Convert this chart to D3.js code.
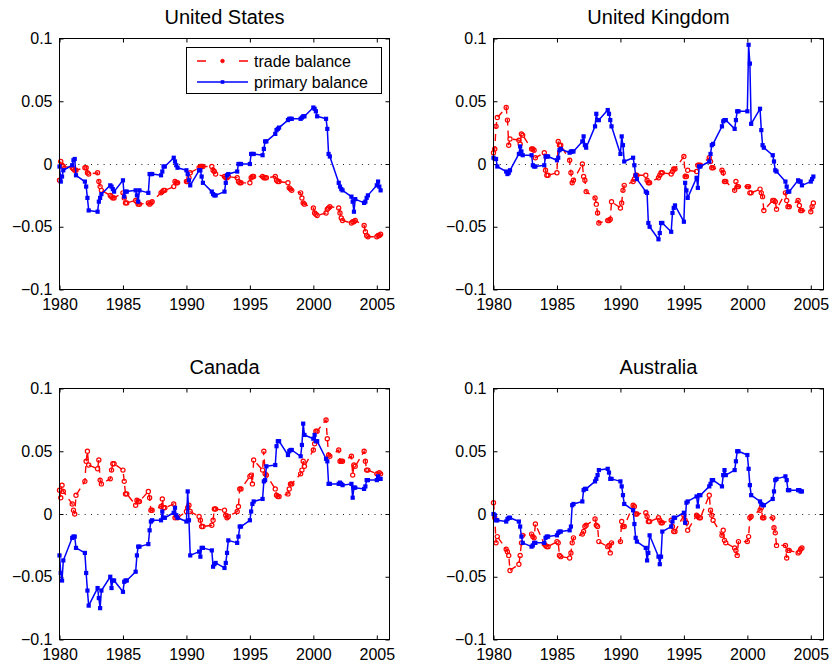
<!DOCTYPE html>
<html>
<head>
<meta charset="utf-8">
<script src="https://cdn.jsdelivr.net/npm/d3@7"></script>
<style>
  html, body { margin: 0; padding: 0; background: #fff; }
  svg { display: block; font-family: "Liberation Sans", Arial, Helvetica, sans-serif; }
</style>
</head>
<body>
<svg id="chart" width="832" height="668"></svg>
<script>
// Quarterly observations (share of GDP), one row per year starting in 1980.
// Dates are coded as year + 0.0 / 0.1 / 0.2 / 0.3 for Q1..Q4.
const startYear = 1980;
const quarterCode = [0, 0.1, 0.2, 0.3];

const usTrade = [
  -0.013, 0.002, -0.001, -0.002,
  -0.003, -0.004, -0.005, -0.005,
  -0.003, -0.003, -0.007, -0.008,
  -0.007, -0.014, -0.018, -0.021,
  -0.025, -0.026, -0.027, -0.027,
  -0.023, -0.027, -0.031, -0.031,
  -0.029, -0.030, -0.032, -0.032,
  -0.031, -0.032, -0.031, -0.030,
  -0.023, -0.022, -0.021, -0.021,
  -0.018, -0.014, -0.015, -0.015,
  -0.014, -0.014, -0.011, -0.007,
  -0.003, -0.002, -0.002, -0.002,
  -0.002, -0.005, -0.006, -0.008,
  -0.010, -0.011, -0.011, -0.010,
  -0.011, -0.014, -0.015, -0.015,
  -0.015, -0.011, -0.010, -0.010,
  -0.010, -0.011, -0.011, -0.011,
  -0.010, -0.013, -0.014, -0.014,
  -0.015, -0.019, -0.020, -0.021,
  -0.023, -0.027, -0.031, -0.032,
  -0.035, -0.039, -0.040, -0.041,
  -0.039, -0.036, -0.035, -0.034,
  -0.035, -0.039, -0.043, -0.045,
  -0.047, -0.046, -0.046, -0.045,
  -0.049, -0.054, -0.057, -0.058,
  -0.058, -0.057, -0.057, -0.056
];
const usPrimary = [
  -0.002, -0.014, -0.010, -0.005,
  -0.001, 0.003, 0.004, -0.009,
  -0.014, -0.018, -0.027, -0.037,
  -0.038, -0.030, -0.027, -0.024,
  -0.017, -0.018, -0.020, -0.022,
  -0.013, -0.026, -0.022, -0.022,
  -0.021, -0.025, -0.030, -0.021,
  -0.023, -0.008, -0.008, -0.008,
  -0.009, -0.006, -0.002, -0.002,
  0.005, 0.002, -0.001, -0.003,
  -0.005, -0.008, -0.013, -0.017,
  -0.005, -0.005, -0.010, -0.015,
  -0.022, -0.024, -0.025, -0.025,
  -0.022, -0.015, -0.009, -0.008,
  -0.006, 0.000, 0.000, 0.000,
  0.000, 0.008, 0.008, 0.008,
  0.007, 0.012, 0.018, 0.018,
  0.024, 0.027, 0.028, 0.029,
  0.035, 0.036, 0.036, 0.036,
  0.036, 0.037, 0.038, 0.038,
  0.045, 0.044, 0.042, 0.038,
  0.036, 0.028, 0.008, 0.006,
  -0.015, -0.018, -0.020, -0.021,
  -0.026, -0.030, -0.038, -0.028,
  -0.031, -0.030, -0.027, -0.025,
  -0.017, -0.014, -0.018, -0.021
];

const ukTrade = [
  0.009, 0.012, 0.030, 0.037,
  0.045, 0.035, 0.015, 0.020,
  0.019, 0.016, 0.024, 0.023,
  0.012, 0.012, 0.011, 0.005,
  0.009, -0.005, -0.009, -0.009,
  -0.007, 0.018, 0.015, 0.015,
  0.003, -0.007, -0.015, -0.013,
  0.000, -0.010, -0.013, -0.022,
  -0.027, -0.032, -0.039, -0.047,
  -0.045, -0.045, -0.044, -0.030,
  -0.035, -0.031, -0.021, -0.017,
  -0.014, -0.012, -0.009, -0.009,
  -0.009, -0.013, -0.015, -0.015,
  -0.011, -0.009, -0.007, -0.007,
  -0.008, -0.006, -0.004, -0.004,
  0.006, -0.010, -0.010, -0.005,
  -0.006, -0.001, -0.001, -0.001,
  0.005, 0.002, -0.003, -0.003,
  -0.005, -0.007, -0.014, -0.014,
  -0.021, -0.014, -0.018, -0.018,
  -0.018, -0.018, -0.023, -0.023,
  -0.020, -0.023, -0.026, -0.037,
  -0.029, -0.029, -0.030, -0.036,
  -0.023, -0.029, -0.034, -0.034,
  -0.029, -0.033, -0.037, -0.037,
  -0.038, -0.034, -0.031
];
const ukPrimary = [
  0.005, 0.004, 0.004, -0.002,
  -0.006, -0.008, -0.007, -0.005,
  0.008, 0.014, 0.010, 0.007,
  0.007, -0.001, -0.002, -0.002,
  -0.001, 0.006, 0.006, 0.006,
  0.003, 0.005, 0.011, 0.012,
  0.009, 0.010, 0.010, 0.010,
  0.018, 0.022, 0.015, 0.013,
  0.030, 0.040, 0.035, 0.035,
  0.043, 0.040, 0.035, 0.030,
  0.008, 0.022, 0.015, 0.002,
  0.005, -0.001, -0.009, -0.012,
  -0.022, -0.023, -0.047, -0.050,
  -0.060, -0.055, -0.047, -0.047,
  -0.054, -0.039, -0.035, -0.033,
  -0.046, -0.015, -0.021, -0.027,
  -0.011, -0.019, -0.002, -0.002,
  0.002, 0.008, 0.015, 0.016,
  0.030, 0.034, 0.035, 0.035,
  0.028, 0.035, 0.042, 0.042,
  0.042, 0.095, 0.080, 0.032,
  0.044, 0.027, 0.015, 0.013,
  0.007, 0.002, -0.005, -0.006,
  -0.014, -0.018, -0.022, -0.022,
  -0.013, -0.014, -0.014, -0.017,
  -0.014, -0.012, -0.010
];

const caTrade = [
  0.019, 0.013, 0.023, 0.018,
  0.008, 0.003, 0.000, 0.015,
  0.026, 0.042, 0.050, 0.039,
  0.036, 0.043, 0.027, 0.024,
  0.028, 0.035, 0.040, 0.040,
  0.035, 0.026, 0.016, 0.016,
  0.007, 0.011, 0.010, 0.010,
  0.018, 0.013, 0.003, 0.003,
  0.006, 0.012, 0.005, 0.005,
  0.008, -0.003, -0.002, -0.003,
  0.002, 0.005, 0.007, 0.002,
  -0.002, -0.005, -0.010, -0.010,
  -0.009, -0.005, 0.004, 0.004,
  0.003, -0.001, -0.003, -0.002,
  0.002, 0.006, 0.020, 0.020,
  0.030, 0.031, 0.024, 0.043,
  0.035, 0.050, 0.032, 0.031,
  0.020, 0.015, 0.014, 0.014,
  0.016, 0.020, 0.024, 0.024,
  0.032, 0.035, 0.042, 0.038,
  0.051, 0.056, 0.066, 0.066,
  0.075, 0.060, 0.047, 0.046,
  0.051, 0.042, 0.042, 0.042,
  0.046, 0.031, 0.039, 0.038,
  0.050, 0.042, 0.035, 0.035,
  0.032, 0.032, 0.033, 0.032
];
const caPrimary = [
  -0.033, -0.047, -0.053, -0.037,
  -0.019, -0.018, -0.018, -0.027,
  -0.031, -0.047, -0.061, -0.073,
  -0.059, -0.067, -0.075, -0.061,
  -0.050, -0.059, -0.053, -0.053,
  -0.062, -0.054, -0.053, -0.053,
  -0.046, -0.033, -0.026, -0.026,
  -0.024, -0.013, -0.006, -0.005,
  -0.005, 0.002, -0.003, -0.003,
  0.001, 0.005, -0.001, -0.003,
  -0.006, 0.018, -0.005, -0.033,
  -0.030, -0.034, -0.027, -0.027,
  -0.029, -0.042, -0.040, -0.039,
  -0.043, -0.039, -0.031, -0.021,
  -0.023, -0.018, -0.010, -0.010,
  -0.005, 0.002, 0.008, 0.010,
  0.012, 0.026, 0.027, 0.038,
  0.039, 0.054, 0.058, 0.058,
  0.047, 0.050, 0.051, 0.051,
  0.046, 0.055, 0.072, 0.063,
  0.060, 0.063, 0.058, 0.058,
  0.044, 0.042, 0.024, 0.024,
  0.024, 0.025, 0.024, 0.023,
  0.024, 0.013, 0.021, 0.021,
  0.020, 0.022, 0.027, 0.027,
  0.027, 0.030, 0.028, 0.028
];

const auTrade = [
  0.009, -0.003, -0.023, -0.018,
  -0.028, -0.030, -0.033, -0.045,
  -0.040, -0.033, -0.023, -0.017,
  -0.016, -0.018, -0.019, -0.008,
  -0.024, -0.025, -0.026, -0.026,
  -0.022, -0.023, -0.033, -0.034,
  -0.035, -0.031, -0.023, -0.019,
  -0.016, -0.014, -0.010, -0.009,
  -0.004, -0.009, -0.010, -0.022,
  -0.026, -0.025, -0.031, -0.023,
  -0.022, -0.006, -0.010, -0.010,
  0.007, 0.006, 0.000, 0.000,
  0.001, -0.002, -0.006, -0.006,
  -0.003, -0.005, -0.007, -0.007,
  -0.005, -0.010, -0.014, -0.014,
  -0.001, -0.005, -0.007, -0.013,
  -0.001, -0.002, -0.003, -0.003,
  0.015, 0.003, -0.001, -0.005,
  -0.017, -0.013, -0.021, -0.023,
  -0.027, -0.029, -0.033, -0.022,
  -0.022, -0.018, -0.003, -0.002,
  0.003, 0.005, -0.003, -0.003,
  -0.003, -0.011, -0.015, -0.025,
  -0.025, -0.035, -0.029, -0.029,
  -0.031, -0.030, -0.028, -0.027
];
const auPrimary = [
  0.000, -0.001, -0.005, -0.005,
  -0.006, -0.004, -0.003, -0.003,
  -0.006, -0.010, -0.018, -0.023,
  -0.026, -0.025, -0.023, -0.023,
  -0.023, -0.019, -0.018, -0.018,
  -0.017, -0.015, -0.014, -0.014,
  -0.013, -0.010, 0.007, 0.008,
  0.010, 0.019, 0.020, 0.020,
  0.026, 0.028, 0.031, 0.035,
  0.036, 0.033, 0.028, 0.028,
  0.026, 0.022, 0.015, 0.008,
  0.003, -0.008, -0.019, -0.022,
  -0.027, -0.037, -0.031, -0.017,
  -0.034, -0.040, -0.034, -0.014,
  -0.010, -0.006, -0.003, -0.003,
  0.001, -0.007, 0.009, 0.010,
  0.014, 0.006, 0.015, 0.015,
  0.022, 0.024, 0.027, 0.027,
  0.022, 0.031, 0.035, 0.031,
  0.035, 0.042, 0.050, 0.050,
  0.047, 0.036, 0.023, 0.015,
  0.010, 0.008, 0.007, 0.007,
  0.012, 0.018, 0.027, 0.028,
  0.030, 0.027, 0.019, 0.019,
  0.019, 0.019, 0.018, 0.018
];

const countries = ["United States", "United Kingdom", "Canada", "Australia"];
const tradeSeries = [usTrade, ukTrade, caTrade, auTrade];
const primarySeries = [usPrimary, ukPrimary, caPrimary, auPrimary];
const seriesNames = ["trade balance", "primary balance"];

const xDomain = [1980, 2006];
const xTicks = [1980, 1985, 1990, 1995, 2000, 2005];
const yDomain = [-0.1, 0.1];
const yTicks = [-0.1, -0.05, 0, 0.05, 0.1];
const yTickLabels = ["\u22120.1", "\u22120.05", "0", "0.05", "0.1"];

// ---- layout ----
const colX = [59.5, 493.5];
const rowY = [38.5, 388.5];
const panelW = 330, panelH = 251;
const tradeColor = "#ff0000", primaryColor = "#0000ff";

const dateOf = i => startYear + Math.floor(i / 4) + quarterCode[i % 4];

const svg = d3.select("#chart");

countries.forEach((name, k) => {
  const x0 = colX[k % 2], y0 = rowY[Math.floor(k / 2)];
  const x = d3.scaleLinear().domain(xDomain).range([x0, x0 + panelW]);
  const y = d3.scaleLinear().domain(yDomain).range([y0 + panelH, y0]);

  const g = svg.append("g").attr("class", "panel");

  // title
  g.append("text")
    .attr("x", x0 + panelW / 2).attr("y", y0 - 15)
    .attr("text-anchor", "middle")
    .attr("font-size", 20).attr("fill", "#000")
    .text(name);

  // axes with inward ticks on all four sides
  const styleAxis = sel => {
    sel.attr("font-size", 16).attr("font-family", null).attr("color", "#000");
    sel.select(".domain").remove();
  };
  g.append("g").attr("transform", `translate(0,${y0 + panelH})`)
    .call(d3.axisBottom(x).tickValues(xTicks).tickFormat(d => String(d))
      .tickSize(-4).tickSizeOuter(0).tickPadding(9))
    .call(styleAxis);
  g.append("g").attr("transform", `translate(0,${y0})`)
    .call(d3.axisTop(x).tickValues(xTicks).tickFormat("")
      .tickSize(-4).tickSizeOuter(0))
    .call(styleAxis);
  g.append("g").attr("transform", `translate(${x0},0)`)
    .call(d3.axisLeft(y).tickValues(yTicks).tickFormat((d, i) => yTickLabels[i])
      .tickSize(-4).tickSizeOuter(0).tickPadding(7))
    .call(styleAxis);
  g.append("g").attr("transform", `translate(${x0 + panelW},0)`)
    .call(d3.axisRight(y).tickValues(yTicks).tickFormat("")
      .tickSize(-4).tickSizeOuter(0))
    .call(styleAxis);

  // dotted zero line
  const yz = Math.round(y(0)) + 0.5;
  g.append("line")
    .attr("x1", x0).attr("x2", x0 + panelW)
    .attr("y1", yz).attr("y2", yz)
    .attr("stroke", "#222").attr("stroke-width", 1)
    .attr("stroke-dasharray", "1,5.3");

  const line = d3.line().x((d, i) => x(dateOf(i))).y(d => y(d));

  // trade balance: dashed red with open circles
  const trade = tradeSeries[k];
  g.append("path").datum(trade)
    .attr("d", line).attr("fill", "none")
    .attr("stroke", tradeColor).attr("stroke-width", 1.4)
    .attr("stroke-dasharray", "7,5");
  g.append("g").selectAll("circle").data(trade).join("circle")
    .attr("cx", (d, i) => x(dateOf(i))).attr("cy", d => y(d))
    .attr("r", 2.1).attr("fill", "none")
    .attr("stroke", tradeColor).attr("stroke-width", 1.2);

  // primary balance: solid blue with filled squares
  const primary = primarySeries[k];
  g.append("path").datum(primary)
    .attr("d", line).attr("fill", "none")
    .attr("stroke", primaryColor).attr("stroke-width", 1.5)
    .attr("stroke-linejoin", "round");
  const sq = 4.2;
  g.append("g").selectAll("rect").data(primary).join("rect")
    .attr("x", (d, i) => x(dateOf(i)) - sq / 2).attr("y", d => y(d) - sq / 2)
    .attr("width", sq).attr("height", sq)
    .attr("fill", primaryColor);

  // frame
  g.append("rect")
    .attr("x", x0).attr("y", y0).attr("width", panelW).attr("height", panelH)
    .attr("fill", "none").attr("stroke", "#000").attr("stroke-width", 1);

  // legend in the first panel
  if (k === 0) {
    const lg = g.append("g").attr("class", "legend");
    const lx = 186.5, ly = 47.5, lw = 195, lh = 46;
    lg.append("rect").attr("x", lx).attr("y", ly).attr("width", lw).attr("height", lh)
      .attr("fill", "#fff").attr("stroke", "#000").attr("stroke-width", 1);
    const rows = [
      { label: seriesNames[0], color: tradeColor, dash: "9,33", y: 61 },
      { label: seriesNames[1], color: primaryColor, dash: null, y: 82 }
    ];
    rows.forEach((r, j) => {
      lg.append("line").attr("x1", 197).attr("x2", 248)
        .attr("y1", r.y).attr("y2", r.y)
        .attr("stroke", r.color).attr("stroke-width", 1.4)
        .attr("stroke-dasharray", r.dash);
      if (j === 0) {
        lg.append("circle").attr("cx", 222.5).attr("cy", r.y).attr("r", 1.8)
          .attr("fill", r.color).attr("stroke", r.color).attr("stroke-width", 0.8);
      } else {
        lg.append("rect").attr("x", 222.5 - 1.8).attr("y", r.y - 1.8)
          .attr("width", 3.6).attr("height", 3.6).attr("fill", r.color);
      }
      lg.append("text").attr("x", 254).attr("y", r.y + 5.6)
        .attr("font-size", 16).attr("fill", "#000")
        .text(r.label);
    });
  }
});
</script>
</body>
</html>
